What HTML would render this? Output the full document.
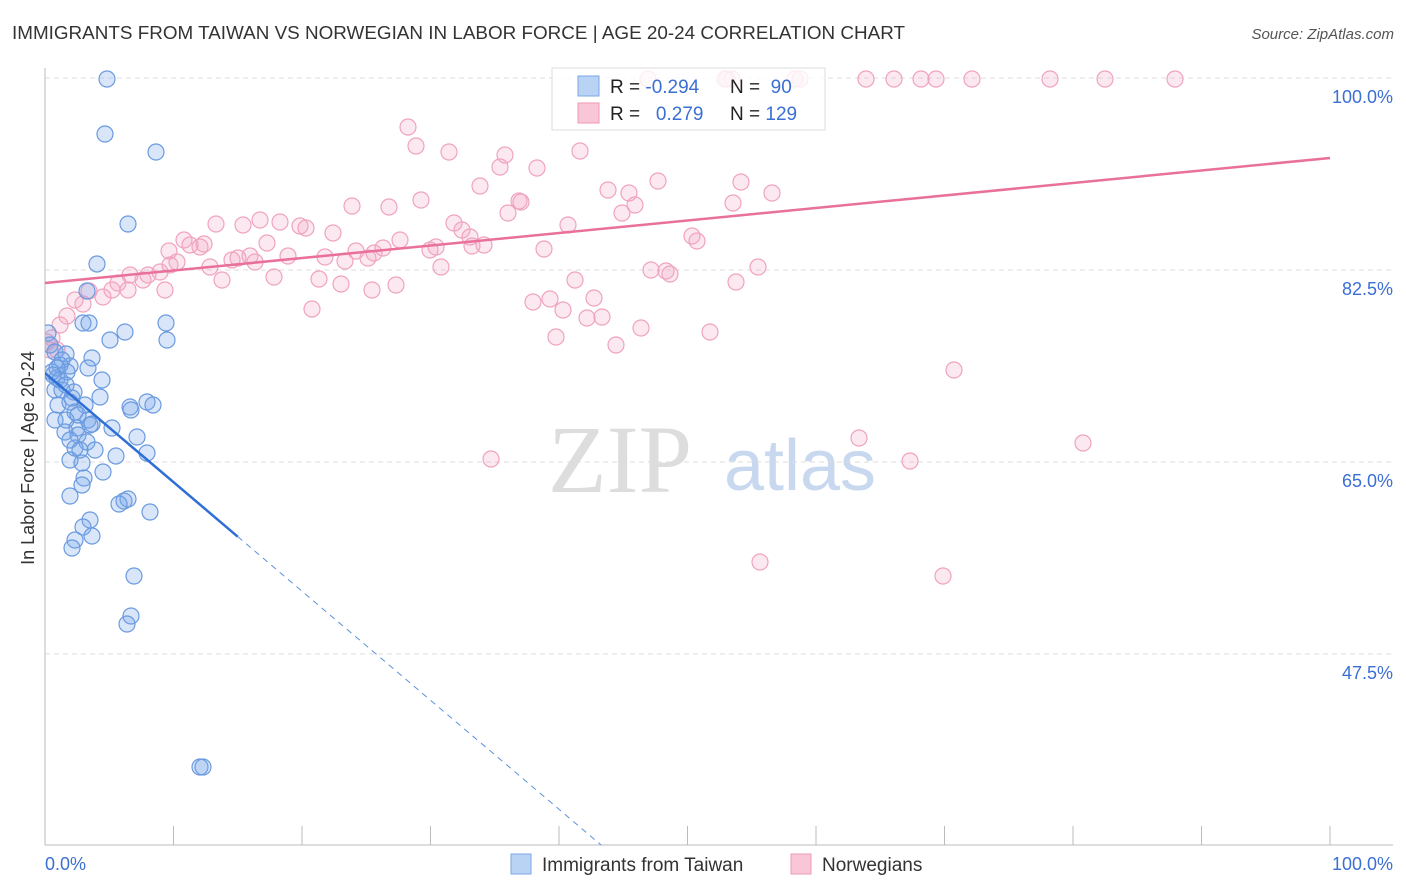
<!DOCTYPE html>
<html><head><meta charset="utf-8"><style>
html,body{margin:0;padding:0;background:#fff;font-family:"Liberation Sans",sans-serif;width:1406px;height:892px;overflow:hidden;}
#wrap{position:relative;width:1406px;height:892px;overflow:hidden;}
svg{display:block;}
</style></head><body>
<div id="wrap">
<svg id="svg" width="1406" height="892" xmlns="http://www.w3.org/2000/svg">
<defs><clipPath id="plotclip"><rect x="45" y="60" width="1300" height="785"/></clipPath></defs>
<text x="12" y="39" font-size="18" fill="#333" textLength="893" lengthAdjust="spacingAndGlyphs">IMMIGRANTS FROM TAIWAN VS NORWEGIAN IN LABOR FORCE | AGE 20-24 CORRELATION CHART</text>
<text x="1394" y="39" font-size="15" fill="#555" text-anchor="end" font-style="italic">Source: ZipAtlas.com</text>
<text x="620" y="492" font-size="96" fill="#ddd" font-family="Liberation Serif,serif" text-anchor="middle">ZIP</text>
<text x="800" y="490" font-size="72" fill="#c8d8ee" text-anchor="middle">atlas</text>
<g id="grid"></g>
<g id="axes"></g>
<g id="pts" clip-path="url(#plotclip)"></g>
<g id="lines" clip-path="url(#plotclip)"></g>
<text transform="translate(34,458) rotate(-90)" font-size="18" fill="#333" text-anchor="middle">In Labor Force | Age 20-24</text>
<g>
<rect x="552" y="68" width="273" height="62" fill="rgba(255,255,255,0.8)" stroke="#ddd"/>
<rect x="578" y="76" width="21" height="20" fill="#b9d3f5" stroke="#7aa7e6"/>
<rect x="578" y="103" width="21" height="20" fill="#f8c6d6" stroke="#ee9ab5"/>
<text x="610" y="93" font-size="19" fill="#222">R = <tspan fill="#3b6fd4">-0.294</tspan></text>
<text x="730" y="93" font-size="19" fill="#222">N = <tspan fill="#3b6fd4">&#160;90</tspan></text>
<text x="610" y="120" font-size="19" fill="#222">R = <tspan fill="#3b6fd4">&#160;&#160;0.279</tspan></text>
<text x="730" y="120" font-size="19" fill="#222">N = <tspan fill="#3b6fd4">129</tspan></text>
</g>
<g>
<rect x="511" y="854" width="20" height="20" fill="#b9d3f5" stroke="#7aa7e6"/>
<text x="542" y="871" font-size="19" fill="#333">Immigrants from Taiwan</text>
<rect x="791" y="854" width="20" height="20" fill="#f8c6d6" stroke="#ee9ab5"/>
<text x="822" y="871" font-size="19" fill="#333">Norwegians</text>
</g>
</svg>
</div>
<script>
const yTicks=[100,82.5,65,47.5];
const yTickLabels=["100.0%","82.5%","65.0%","47.5%"];
const xTicks=[0,10,20,30,40,50,60,70,80,90,100];
const blueXpx=[107,105,156,128,97,87,83,89,166,125,110,167,48,50,55,66,92,60,70,52,57,67,88,102,55,62,74,100,58,70,85,130,147,153,131,75,88,66,77,92,112,137,65,78,87,75,95,116,147,70,82,103,84,82,70,124,128,119,150,90,83,92,75,72,134,131,127,200,203,62,57,53,60,66,72,78,90,70,80,55];
const blueYpx=[79,134,152,224,264,291,323,323,323,332,340,340,333,345,352,354,358,365,366,372,378,372,368,380,390,390,392,397,405,402,405,407,402,405,410,412,420,420,428,424,428,437,432,435,442,448,450,456,453,460,463,472,478,485,496,501,499,504,512,520,527,536,540,548,576,616,624,767,767,360,368,375,380,385,398,415,425,440,450,420];
const pinkXpx=[648,725,795,800,866,894,921,936,972,1050,1105,1175,727,732,408,416,449,505,500,537,580,480,608,629,658,741,772,733,635,622,519,521,508,352,389,421,216,243,260,280,300,306,454,462,470,333,568,184,190,200,204,267,400,436,430,472,484,356,383,692,697,544,169,177,238,210,250,232,255,288,325,345,368,374,130,148,160,118,143,170,222,274,319,341,396,372,441,575,651,666,670,758,736,89,103,112,128,75,83,165,533,550,594,563,587,602,312,67,60,52,57,50,47,641,556,616,710,954,859,1083,910,491,760,943];
const pinkYpx=[79,79,79,79,79,79,79,79,79,79,79,79,79,79,127,146,152,155,167,168,151,186,190,193,181,182,193,203,205,213,201,202,213,206,207,200,224,225,220,222,226,228,223,230,237,233,225,240,245,247,244,243,240,247,250,246,245,251,248,236,241,249,251,262,258,267,256,260,262,256,257,261,258,253,275,275,272,283,280,265,280,277,279,284,285,290,267,280,270,271,274,267,282,291,297,290,290,300,304,290,302,299,298,310,318,317,309,316,325,338,350,350,342,328,337,345,332,370,438,443,461,459,562,576];
const blueX=blueXpx.map(p=>(p-45)/12.85), blueY=blueYpx.map(p=>100-(p-78)/10.97);
const pinkX=pinkXpx.map(p=>(p-45)/12.85), pinkY=pinkYpx.map(p=>100-(p-78)/10.97);
const blueLine=[73.1,-0.994];
const pinkLine=[81.31,0.114];
const sx=v=>45+v*12.85, sy=v=>78+(100-v)*10.97;
const NS="http://www.w3.org/2000/svg";
function mk(t,a){const e=document.createElementNS(NS,t);for(const k in a)e.setAttribute(k,a[k]);return e;}
const grid=document.getElementById('grid'),axes=document.getElementById('axes');
yTicks.forEach((v,i)=>{
 const l=mk('line',{x1:45,x2:1393,y1:sy(v),y2:sy(v),stroke:'#ddd','stroke-dasharray':'5,4'});
 
 
 grid.appendChild(l);
 const t=mk('text',{x:1393,y:sy(v)+25,'font-size':18,fill:'#3b6fd4','text-anchor':'end'});
 t.textContent=yTickLabels[i];
 
 
 axes.appendChild(t);
});
const ax=mk('line',{x1:45,x2:45,y1:68,y2:845,stroke:'#bbb'});


axes.appendChild(ax);
const bx=mk('line',{x1:45,x2:1393,y1:845,y2:845,stroke:'#bbb'});


axes.appendChild(bx);
xTicks.forEach(v=>{
 const l=mk('line',{x1:sx(v),x2:sx(v),y1:826,y2:845,stroke:'#bbb'});
 
 
 axes.appendChild(l);
});
const xl0=mk('text',{x:45,y:870,'font-size':18,fill:'#3b6fd4'});xl0.textContent='0.0%';


axes.appendChild(xl0);
const xl1=mk('text',{x:1393,y:870,'font-size':18,fill:'#3b6fd4','text-anchor':'end'});xl1.textContent='100.0%';


axes.appendChild(xl1);
const pts=document.getElementById('pts');
pinkX.forEach((x,i)=>{
 const c=mk('circle',{cx:sx(x),cy:sy(pinkY[i]),r:8,fill:'rgba(244,165,195,0.25)',stroke:'#f0a3bd','stroke-width':1.2});
 
 
 pts.appendChild(c);
});
blueX.forEach((x,i)=>{
 const c=mk('circle',{cx:sx(x),cy:sy(blueY[i]),r:8,fill:'rgba(120,165,235,0.28)',stroke:'#6a9ae0','stroke-width':1.2});
 
 
 pts.appendChild(c);
});
const lines=document.getElementById('lines');
const pl=mk('line',{x1:sx(0),y1:sy(pinkLine[0]),x2:sx(100),y2:sy(pinkLine[0]+pinkLine[1]*100),stroke:'#e8709a','stroke-width':2.5});


lines.appendChild(pl);
const bl=mk('line',{x1:sx(0),y1:sy(blueLine[0]),x2:sx(15),y2:sy(blueLine[0]+blueLine[1]*15),stroke:'#2f6fd6','stroke-width':2.5});


lines.appendChild(bl);
const bd=mk('line',{x1:sx(15),y1:sy(blueLine[0]+blueLine[1]*15),x2:sx(100),y2:sy(blueLine[0]+blueLine[1]*100),stroke:'#5b90dc','stroke-width':1,'stroke-dasharray':'6,5'});


lines.appendChild(bd);
</script>
</body></html>
